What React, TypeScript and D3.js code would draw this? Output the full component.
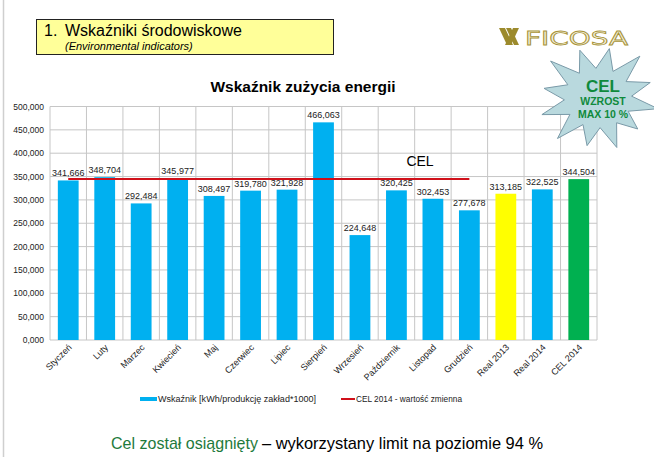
import React from "react";
import * as d3 from "d3";

const categories = ["Styczeń","Luty","Marzec","Kwiecień","Maj","Czerwiec","Lipiec","Sierpień","Wrzesień","Październik","Listopad","Grudzień","Real 2013","Real 2014","CEL 2014"];
const values = [341666,348704,292484,345977,308497,319780,321928,466063,224648,320425,302453,277678,313185,322525,344504];
const barColors = ["#00b0f0","#00b0f0","#00b0f0","#00b0f0","#00b0f0","#00b0f0","#00b0f0","#00b0f0","#00b0f0","#00b0f0","#00b0f0","#00b0f0","#ffff00","#00b0f0","#00b050"];
const targetMonths = categories.slice(0, 12);
const targetValue = 344504;
const yTicks = [0,50000,100000,150000,200000,250000,300000,350000,400000,450000,500000];

const W = 654, H = 457;
const plot = { left: 50, right: 597, top: 106.5, bottom: 340 };

function fmt(v: number) {
  return v === 0 ? "0,000" : d3.format(",")(v);
}

export default function App() {
  const x = d3.scaleBand<string>().domain(categories).range([plot.left, plot.right]).paddingInner(0).paddingOuter(0);
  const y = d3.scaleLinear().domain([0, 500000]).range([plot.bottom, plot.top]);
  const bw = x.bandwidth() * 0.57;
  const font = "Liberation Sans, Arial, sans-serif";

  // starburst
  const cx = 598, cy = 98;
  const n = 12;
  const outerR = [56, 62, 54, 60, 52, 58, 54, 60, 58, 54, 62, 56];
  const pts: [number, number][] = [];
  for (let i = 0; i < n * 2; i++) {
    const a = (i / (n * 2)) * Math.PI * 2 - Math.PI / 2 + 0.2;
    const r = i % 2 === 0 ? outerR[i / 2] : 33;
    pts.push([cx + Math.cos(a) * r * 1.02, cy + Math.sin(a) * r * 0.9]);
  }
  const starPath = d3.line()(pts.concat([pts[0]])) as string;

  const lineGen = d3.line<string>().x(c => (x(c) as number) + x.bandwidth() / 2).y(() => y(targetValue));

  return (
    <svg width={W} height={H} style={{ position: "absolute", left: 0, top: 0, background: "#fff" }} fontFamily={font}>
      <rect x={0} y={0} width={W} height={H} fill="#fff" />
      <line x1={3.5} x2={3.5} y1={0} y2={H} stroke="#cfcfcf" strokeWidth={1.5} />

      {/* header box */}
      <rect x={36.5} y={19.5} width={297} height={35} fill="#ffff99" stroke="#222" strokeWidth={1} />
      <text x={44} y={36} fontSize={16} fill="#000">1.</text>
      <text x={65} y={36} fontSize={16} fill="#000">Wskaźniki środowiskowe</text>
      <text x={65} y={50} fontSize={11} fontStyle="italic" fill="#000">(Environmental indicators)</text>

      {/* logo */}
      <g fill="#9c8a2c">
        <path d="M499,28 L505,28 L513,45 L507,45 Z" />
        <path d="M506,28 L511,28 L519,45 L514,45 Z" />
        <path d="M513,28 L519,28 L511,45 L505,45 Z" />
      </g>
      <text x={525} y={45} fontSize={19} fontFamily="DejaVu Sans, sans-serif" fill="#f5f1dc" stroke="#a8943a" strokeWidth={0.8} textLength={103} lengthAdjust="spacingAndGlyphs">FICOSA</text>

      {/* chart title */}
      <text x={303} y={92} fontSize={15.5} fontWeight="bold" textAnchor="middle" fill="#000">Wskaźnik zużycia energii</text>

      {/* grid */}
      {yTicks.map(t => (
        <line key={"h" + t} x1={plot.left} x2={plot.right} y1={y(t)} y2={y(t)} stroke="#c6c6c6" strokeWidth={1} />
      ))}
      {categories.map(c => (
        <line key={"v" + c} x1={x(c) as number} x2={x(c) as number} y1={plot.top} y2={plot.bottom} stroke="#c6c6c6" strokeWidth={1} />
      ))}
      <line x1={plot.right} x2={plot.right} y1={plot.top} y2={plot.bottom} stroke="#c6c6c6" strokeWidth={1} />

      {/* y tick labels */}
      {yTicks.map(t => (
        <text key={"yt" + t} x={44} y={y(t) + 3} fontSize={8.5} textAnchor="end" fill="#222">{fmt(t)}</text>
      ))}

      {/* bars */}
      {categories.map((c, i) => (
        <rect key={"b" + c} x={(x(c) as number) + (x.bandwidth() - bw) / 2} y={y(values[i])} width={bw} height={plot.bottom - y(values[i])} fill={barColors[i]} />
      ))}

      {/* target line */}
      <path d={lineGen(targetMonths) as string} fill="none" stroke="#d0101a" strokeWidth={2} />
      <text x={420} y={166} fontSize={14} textAnchor="middle" fill="#000">CEL</text>

      {/* value labels */}
      {categories.map((c, i) => (
        <text key={"vl" + c} x={(x(c) as number) + x.bandwidth() / 2} y={y(values[i]) - 4} fontSize={9} textAnchor="middle" fill="#222">{fmt(values[i])}</text>
      ))}

      {/* category labels */}
      {categories.map(c => {
        const cxl = (x(c) as number) + x.bandwidth() / 2 + 4;
        return (
          <text key={"cl" + c} transform={`translate(${cxl},${plot.bottom + 8}) rotate(-45)`} fontSize={9} textAnchor="end" fill="#222">{c}</text>
        );
      })}

      {/* legend */}
      <rect x={140} y={397} width={17} height={4} fill="#00b0f0" />
      <text x={158} y={402} fontSize={8.5} fill="#222" textLength={158} lengthAdjust="spacingAndGlyphs">Wskaźnik [kWh/produkcję zakład*1000]</text>
      <line x1={341} x2={355} y1={399} y2={399} stroke="#d0101a" strokeWidth={2} />
      <text x={356} y={402} fontSize={8.5} fill="#222" textLength={106} lengthAdjust="spacingAndGlyphs">CEL 2014 - wartość zmienna</text>

      {/* starburst */}
      <path d={starPath} fill="#b9d9de" stroke="#7a9aa8" strokeWidth={1} />
      <text x={603} y={92} fontSize={17} fontWeight="bold" textAnchor="middle" fill="#0f8a3c">CEL</text>
      <text x={603} y={105} fontSize={10.5} fontWeight="bold" textAnchor="middle" fill="#0f8a3c">WZROST</text>
      <text x={603} y={118} fontSize={10.5} fontWeight="bold" textAnchor="middle" fill="#0f8a3c">MAX 10 %</text>

      {/* bottom statement */}
      <text x={111} y={449} fontSize={17} fill="#1e7a3c" textLength={147} lengthAdjust="spacingAndGlyphs">Cel został osiągnięty</text>
      <text x={262} y={449} fontSize={17} fill="#000" textLength={281} lengthAdjust="spacingAndGlyphs">– wykorzystany limit na poziomie 94 %</text>
    </svg>
  );
}
